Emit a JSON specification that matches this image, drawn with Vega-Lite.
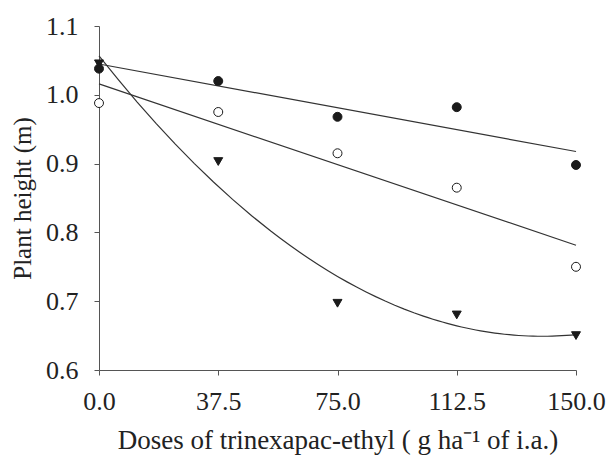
{
  "$schema": "https://vega.github.io/schema/vega-lite/v6.json",
  "width": 477,
  "height": 344,
  "autosize": "none",
  "padding": {"left": 99, "top": 26, "right": 32, "bottom": 95},
  "config": {
    "view": {"stroke": null},
    "font": "Liberation Serif, Times New Roman, serif",
    "axis": {
      "grid": false,
      "domainColor": "#555555",
      "tickColor": "#555555",
      "tickSize": 5,
      "labelFlush": false,
      "labelOverlap": false,
      "labelFont": "Liberation Serif, Times New Roman, serif",
      "labelFontSize": 26,
      "labelColor": "#222222",
      "titleFont": "Liberation Serif, Times New Roman, serif",
      "titleFontSize": 26,
      "titleFontWeight": "normal",
      "titleColor": "#222222"
    }
  },
  "data": {
    "values": [
      {"series": "A", "dose": 0, "height": 1.038},
      {"series": "A", "dose": 37.5, "height": 1.02},
      {"series": "A", "dose": 75, "height": 0.968},
      {"series": "A", "dose": 112.5, "height": 0.982},
      {"series": "A", "dose": 150, "height": 0.898},
      {"series": "B", "dose": 0, "height": 0.988},
      {"series": "B", "dose": 37.5, "height": 0.975},
      {"series": "B", "dose": 75, "height": 0.915},
      {"series": "B", "dose": 112.5, "height": 0.865},
      {"series": "B", "dose": 150, "height": 0.75},
      {"series": "C", "dose": 0, "height": 1.045},
      {"series": "C", "dose": 37.5, "height": 0.903},
      {"series": "C", "dose": 75, "height": 0.697},
      {"series": "C", "dose": 112.5, "height": 0.68},
      {"series": "C", "dose": 150, "height": 0.65}
    ]
  },
  "encoding": {
    "x": {
      "field": "dose",
      "type": "quantitative",
      "scale": {"domain": [0, 150], "nice": false},
      "axis": {
        "values": [0, 37.5, 75, 112.5, 150],
        "format": ".1f",
        "labelPadding": 13,
        "titlePadding": 13,
        "titleFontSize": 27,
        "title": "Doses of trinexapac-ethyl ( g ha⁻¹ of  i.a.)"
      }
    },
    "y": {
      "field": "height",
      "type": "quantitative",
      "scale": {"domain": [0.6, 1.1], "nice": false, "zero": false},
      "axis": {
        "values": [0.6, 0.7, 0.8, 0.9, 1.0, 1.1],
        "format": ".1f",
        "labelPadding": 16,
        "titlePadding": 10,
        "titleFontSize": 25,
        "title": "Plant height (m)"
      }
    }
  },
  "layer": [
    {
      "transform": [
        {"filter": "datum.series !== 'C'"},
        {"regression": "height", "on": "dose", "groupby": ["series"]}
      ],
      "mark": {"type": "line", "color": "#333333", "strokeWidth": 1.2},
      "encoding": {"detail": {"field": "series"}}
    },
    {
      "transform": [
        {"filter": "datum.series === 'C'"},
        {"regression": "height", "on": "dose", "method": "poly", "order": 2}
      ],
      "mark": {"type": "line", "color": "#333333", "strokeWidth": 1.2}
    },
    {
      "mark": {"type": "point", "filled": true, "size": 80, "stroke": "#1a1a1a", "strokeWidth": 1, "opacity": 1},
      "encoding": {
        "shape": {
          "field": "series",
          "scale": {"domain": ["A", "B", "C"], "range": ["circle", "circle", "triangle-down"]},
          "legend": null
        },
        "fill": {
          "field": "series",
          "scale": {"domain": ["A", "B", "C"], "range": ["#1a1a1a", "#ffffff", "#1a1a1a"]},
          "legend": null
        }
      }
    }
  ]
}
